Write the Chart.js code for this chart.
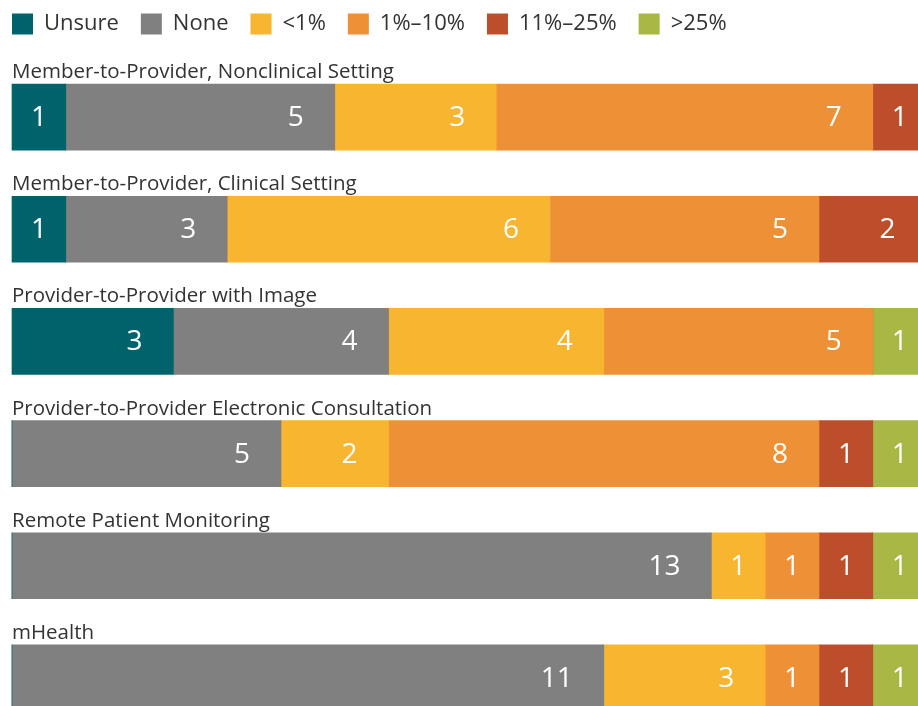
<!DOCTYPE html>
<html><head><meta charset="utf-8">
<script src="https://cdn.jsdelivr.net/npm/chart.js@4/dist/chart.umd.min.js"></script>
<style>html,body{margin:0;padding:0;background:#fff;overflow:hidden;width:918px;height:706px}#wrap{width:918px;height:734px;position:relative}</style>
</head><body><div id="wrap"><canvas id="c"></canvas></div>
<script>
const categories = ["Member-to-Provider, Nonclinical Setting","Member-to-Provider, Clinical Setting","Provider-to-Provider with Image","Provider-to-Provider Electronic Consultation","Remote Patient Monitoring","mHealth"];
const seriesNames = ["Unsure","None","<1%","1%\u201310%","11%\u201325%",">25%"];
const unsure = [1,1,3,0,0,0];
const none = [5,3,4,5,13,11];
const lessThan1 = [3,6,4,2,1,3];
const pct1to10 = [7,5,5,8,1,1];
const pct11to25 = [1,2,0,1,1,1];
const over25 = [0,0,1,1,1,1];
const colors = ["#00636b","#808080","#f7b530","#ed9036","#bc4e2c","#a9b745"];
const seriesValues = [unsure,none,lessThan1,pct1to10,pct11to25,over25];
const FONT = "'Open Sans', sans-serif";
const LEGEND_PAD = 22;

const legendPlace = {
  id:'legendPlace',
  afterLayout(chart){
    if (chart.legend) {
      chart.legend.left = 12 - LEGEND_PAD;
      chart.legend.top = 13 - LEGEND_PAD;
    }
  }
};

const labelPlugin = {
  id:'labels',
  afterDatasetsDraw(chart){
    const ctx = chart.ctx;
    ctx.save();
    const meta0 = chart.getDatasetMeta(0);
    const x0 = chart.scales.x.getPixelForValue(0);
    ctx.font = "20.5px " + FONT;
    ctx.fillStyle = "#333333";
    ctx.textAlign = "left"; ctx.textBaseline = "alphabetic";
    meta0.data.forEach((bar,i)=>{
      const top = bar.y - bar.height/2;
      ctx.fillText(categories[i], x0, top - 6);
    });
    ctx.font = "28px " + FONT;
    ctx.fillStyle = "#ffffff";
    ctx.textBaseline = "middle"; ctx.textAlign = "center";
    chart.data.datasets.forEach((ds,di)=>{
      const meta = chart.getDatasetMeta(di);
      meta.data.forEach((bar,i)=>{
        const v = ds.data[i];
        if(!v) return;
        const t = String(v);
        const w = ctx.measureText(t).width;
        const end = Math.max(bar.x,bar.base), start = Math.min(bar.x,bar.base);
        const cx = Math.max((start+end)/2, end - 31 - w/2);
        ctx.fillText(t, cx, bar.y + 1);
      });
    });
    ctx.restore();
  }
};

const chart = new Chart(document.getElementById('c'),{
  type:'bar',
  data:{
    labels:categories,
    datasets:seriesNames.map((n,i)=>({label:n,data:seriesValues[i],backgroundColor:colors[i],borderWidth:0,barThickness:66}))
  },
  options:{
    indexAxis:'y',
    responsive:true, maintainAspectRatio:false, animation:false,
    layout:{padding:{left:0,right:0,top:0,bottom:0}},
    scales:{
      x:{stacked:true,min:-0.223,max:16.84,display:false},
      y:{stacked:true,display:false}
    },
    plugins:{
      legend:{position:'top',align:'start',labels:{boxWidth:21,boxHeight:21,padding:LEGEND_PAD,color:'#333333',font:{family:FONT,size:22}}},
      tooltip:{enabled:false}
    }
  },
  plugins:[labelPlugin, legendPlace]
});
const diff = 61 - chart.chartArea.top;
if (Math.abs(diff) > 0.5) { chart.options.layout.padding.top += diff; chart.update(); }
</script></body></html>
